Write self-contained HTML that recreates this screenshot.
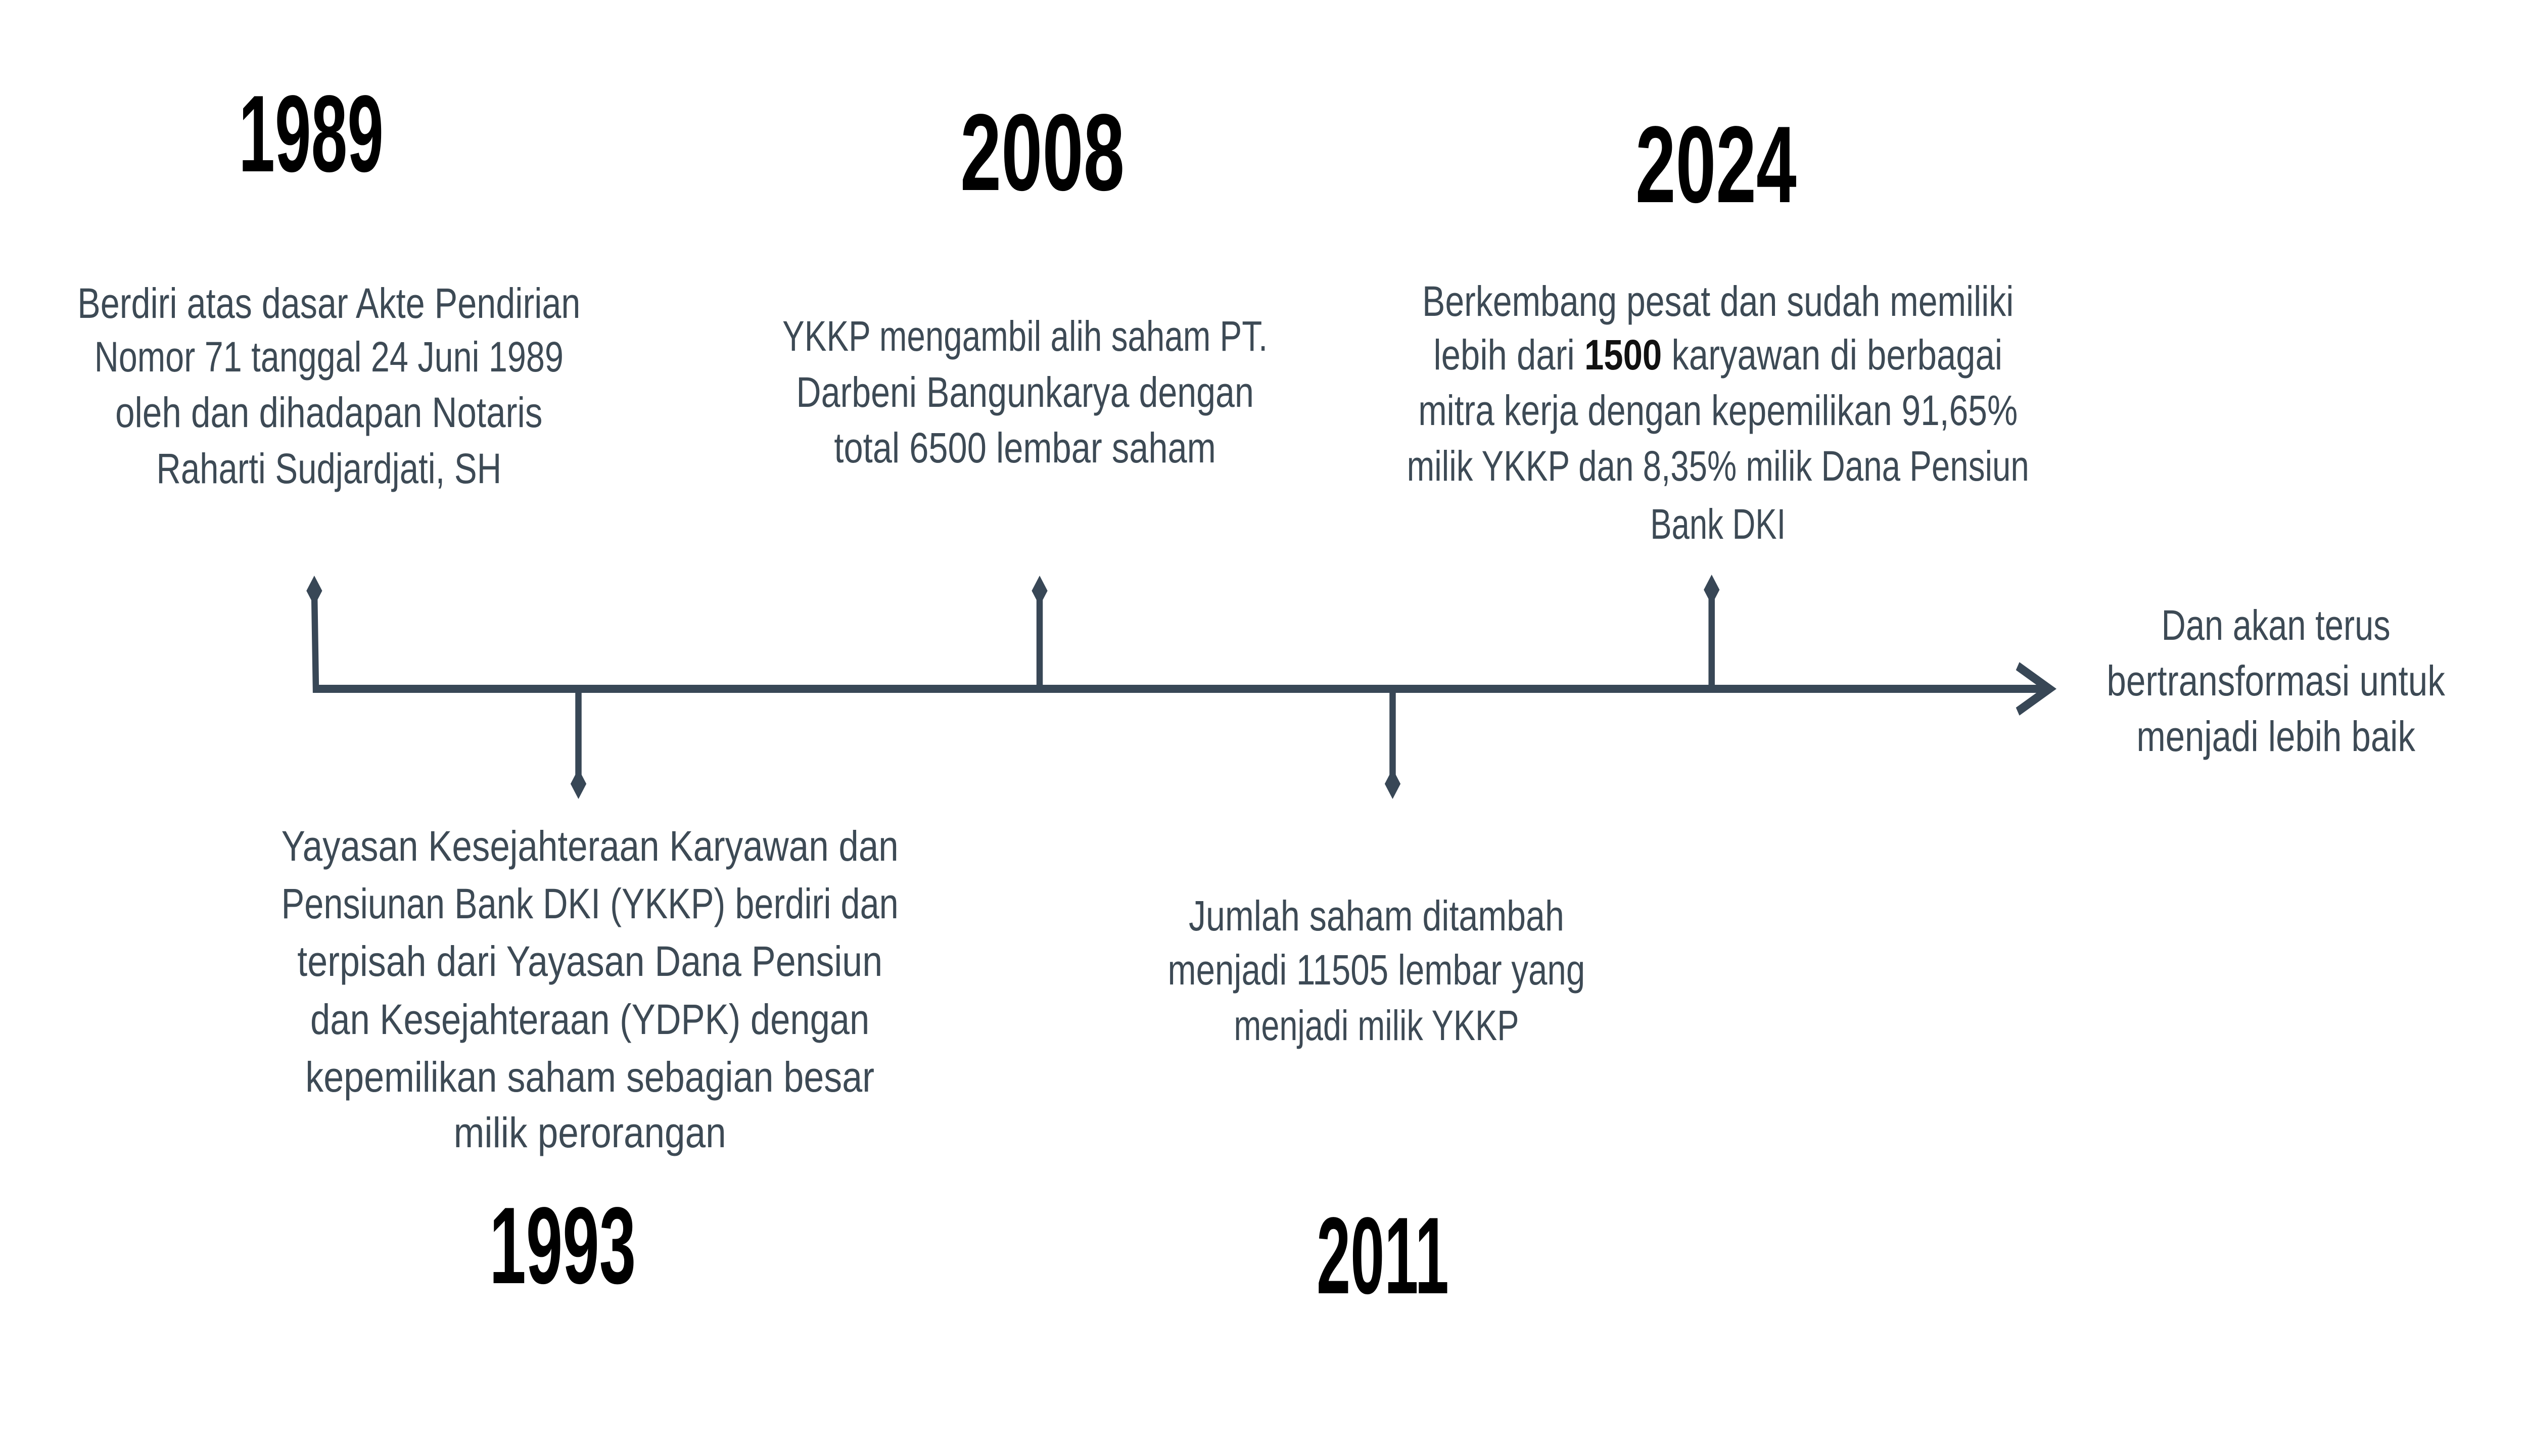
<!DOCTYPE html>
<html><head><meta charset="utf-8"><style>
html,body{margin:0;padding:0;background:#fff;overflow:hidden;width:100%;height:100%;}
svg{display:block;width:100vw;height:100vh;}
.y{font-family:"Liberation Sans Narrow","Liberation Sans",sans-serif;font-weight:bold;font-size:216px;fill:#000;}
.t{font-family:"Liberation Sans",sans-serif;font-size:84px;fill:#3d4a55;}
</style></head><body>
<svg viewBox="0 0 6400 2881" preserveAspectRatio="none" xmlns="http://www.w3.org/2000/svg">
<rect width="6400" height="2881" fill="#fff"/>
<g stroke="#384756" stroke-width="16" fill="none">
<polyline points="796,1167 800,1363 5180,1363"/>
<line x1="2633" y1="1167" x2="2633" y2="1363"/>
<line x1="4335" y1="1165" x2="4335" y2="1363"/>
<line x1="1465" y1="1363" x2="1465" y2="1551"/>
<line x1="3527" y1="1363" x2="3527" y2="1551"/>
<polyline points="5110,1318 5190,1363 5110,1408" stroke-width="18"/>
</g>
<g fill="#384756">
<polygon points="796,1139 816,1169 796,1199 776,1169"/>
<polygon points="2633,1139 2653,1169 2633,1199 2613,1169"/>
<polygon points="4335,1137 4355,1167 4335,1197 4315,1167"/>
<polygon points="1465,1521 1485,1551 1465,1581 1445,1551"/>
<polygon points="3527,1521 3547,1551 3527,1581 3507,1551"/>
</g>
<g text-anchor="middle">
<text class="y" x="788" y="339" textLength="367" lengthAdjust="spacingAndGlyphs">1989</text>
<text class="y" x="2640" y="376" textLength="416" lengthAdjust="spacingAndGlyphs">2008</text>
<text class="y" x="4346" y="400" textLength="408" lengthAdjust="spacingAndGlyphs">2024</text>
<text class="y" x="1425" y="2539" textLength="371" lengthAdjust="spacingAndGlyphs">1993</text>
<text class="y" x="3502" y="2559" textLength="335" lengthAdjust="spacingAndGlyphs">2011</text>
</g>
<g text-anchor="middle" class="t">
<text class="t" x="833" y="629" textLength="1274" lengthAdjust="spacingAndGlyphs">Berdiri atas dasar Akte Pendirian</text>
<text class="t" x="833" y="735" textLength="1188" lengthAdjust="spacingAndGlyphs">Nomor 71 tanggal 24 Juni 1989</text>
<text class="t" x="833" y="845" textLength="1082" lengthAdjust="spacingAndGlyphs">oleh dan dihadapan Notaris</text>
<text class="t" x="833" y="956" textLength="874" lengthAdjust="spacingAndGlyphs">Raharti Sudjardjati, SH</text>

<text class="t" x="2596" y="694" textLength="1229" lengthAdjust="spacingAndGlyphs">YKKP mengambil alih saham PT.</text>
<text class="t" x="2596" y="805" textLength="1159" lengthAdjust="spacingAndGlyphs">Darbeni Bangunkarya dengan</text>
<text class="t" x="2596" y="915" textLength="967" lengthAdjust="spacingAndGlyphs">total 6500 lembar saham</text>

<text class="t" x="4351" y="625" textLength="1498" lengthAdjust="spacingAndGlyphs">Berkembang pesat dan sudah memiliki</text>
<text class="t" x="4351" y="731" textLength="1441" lengthAdjust="spacingAndGlyphs">lebih dari <tspan font-weight="bold" fill="#111">1500</tspan> karyawan di berbagai</text>
<text class="t" x="4351" y="841" textLength="1518" lengthAdjust="spacingAndGlyphs">mitra kerja dengan kepemilikan 91,65%</text>
<text class="t" x="4351" y="951" textLength="1576" lengthAdjust="spacingAndGlyphs">milik YKKP dan 8,35% milik Dana Pensiun</text>
<text class="t" x="4351" y="1066" textLength="343" lengthAdjust="spacingAndGlyphs">Bank DKI</text>

<text class="t" x="1494" y="1703" textLength="1563" lengthAdjust="spacingAndGlyphs">Yayasan Kesejahteraan Karyawan dan</text>
<text class="t" x="1494" y="1817" textLength="1563" lengthAdjust="spacingAndGlyphs">Pensiunan Bank DKI (YKKP) berdiri dan</text>
<text class="t" x="1494" y="1931" textLength="1482" lengthAdjust="spacingAndGlyphs">terpisah dari Yayasan Dana Pensiun</text>
<text class="t" x="1494" y="2046" textLength="1416" lengthAdjust="spacingAndGlyphs">dan Kesejahteraan (YDPK) dengan</text>
<text class="t" x="1494" y="2160" textLength="1441" lengthAdjust="spacingAndGlyphs">kepemilikan saham sebagian besar</text>
<text class="t" x="1494" y="2270" textLength="690" lengthAdjust="spacingAndGlyphs">milik perorangan</text>

<text class="t" x="3486" y="1841" textLength="951" lengthAdjust="spacingAndGlyphs">Jumlah saham ditambah</text>
<text class="t" x="3486" y="1948" textLength="1057" lengthAdjust="spacingAndGlyphs">menjadi 11505 lembar yang</text>
<text class="t" x="3486" y="2058" textLength="722" lengthAdjust="spacingAndGlyphs">menjadi milik YKKP</text>

<text class="t" x="5764" y="1266" textLength="580" lengthAdjust="spacingAndGlyphs">Dan akan terus</text>
<text class="t" x="5764" y="1376" textLength="857" lengthAdjust="spacingAndGlyphs">bertransformasi untuk</text>
<text class="t" x="5764" y="1486" textLength="706" lengthAdjust="spacingAndGlyphs">menjadi lebih baik</text>
</g>
</svg>
</body></html>
